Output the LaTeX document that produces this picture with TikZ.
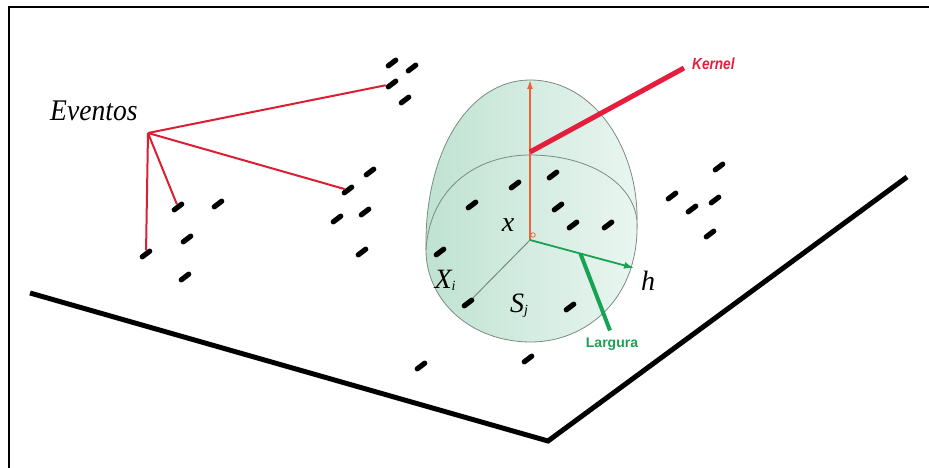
\documentclass[tikz,border=0pt]{standalone}
\usepackage{fontspec}
\setmainfont{Liberation Serif}
\setsansfont{Liberation Sans}
\usetikzlibrary{positioning,arrows.meta,calc}
\definecolor{eventred}{HTML}{DC1E32}
\definecolor{kernelred}{HTML}{E41E3C}
\definecolor{widthgreen}{HTML}{17A352}
\definecolor{axisorange}{HTML}{E8643A}
\definecolor{domedark}{HTML}{BFE2D2}
\definecolor{domelight}{HTML}{EAF6F1}
\definecolor{domeline}{HTML}{7C8A84}

\begin{document}
\begin{tikzpicture}[x=1pt, y=-1pt,
    evento/.style={fill=black, rounded corners=2.5pt, minimum width=14.5pt, minimum height=5.2pt, inner sep=0pt, rotate=37},
    plano/.style={line width=5pt},
    ligacao/.style={eventred, line width=2pt},
    rotulo/.style={inner sep=0pt, font=\fontsize{28}{28}\selectfont\itshape},
    marca/.style={inner sep=0pt, font=\sffamily\bfseries\fontsize{15}{15}\selectfont}
]
    \useasboundingbox (0,0) rectangle (929,468);
    \draw[line width=2pt] (9,468) -- (9,7) -- (929,7);

    \coordinate (pa) at (30,293);
    \coordinate (canto) at (548,441);
    \coordinate (pb) at (907,177);
    \draw[plano] (pa) -- (canto) -- (pb);

    \shadedraw[left color=domedark, right color=domelight, draw=domeline, line width=0.8pt]
        (426,250) .. controls (424,150) and (470,80) .. (530,80)
        .. controls (595,80) and (638,150) .. (637,220)
        .. controls (640,300) and (585,342) .. (531,342)
        .. controls (470,342) and (426,300) .. (426,250) -- cycle;
    \draw[domeline, line width=0.8pt] (426,250) .. controls (430,185) and (480,155) .. (530,155)
        .. controls (585,155) and (632,180) .. (637,220);

    \foreach \nome/\px/\py in {a1/392/63, a2/412/68, a3/392/84, a4/405/100,
        b1/370/172, b2/348/190, b3/337/219, b4/365/212, b5/362/252,
        c1/178/207, c2/218/204, c3/187/239, c4/146/254, c5/185/277,
        d1/421/366, d2/528/359,
        r1/719/167, r2/672/196, r3/692/209, r4/715/200, r5/710/234,
        k1/515/185, k2/553/175, k3/472/205, k4/558/207, k5/573/225,
        k6/608/225, k7/440/252, k8/468/303, k9/570/307}
        \node[evento] (\nome) at (\px,\py) {};

    \coordinate (centro) at (530,240);
    \coordinate (topo) at (530,80);
    \coordinate (kbase) at (530,152);
    \coordinate (hponta) at (634,268);
    \node[circle, draw=axisorange, line width=0.8pt, inner sep=1.6pt] (origem) at (533,235) {};

    \draw[domeline, line width=1pt] (centro) -- (k8);
    \draw[axisorange, line width=1.5pt, -{Latex[length=9pt,width=6pt]}] (centro) -- (topo);

    \node[rotulo, anchor=base west, font=\fontsize{30}{30}\selectfont\itshape] (eventos) at (50,121) {\scalebox{0.92}[1]{Eventos}};
    \coordinate (foco) at (148,133);
    \draw[ligacao] (foco) -- (a3);
    \draw[ligacao] (foco) -- (b2);
    \draw[ligacao] (foco) -- (c1);
    \draw[ligacao] (foco) -- (c4);

    \node[marca, anchor=west, text=kernelred, font=\sffamily\bfseries\itshape\fontsize{16}{16}\selectfont] (kernel) at (692,64) {\scalebox{0.85}[1]{Kernel}};
    \draw[kernelred, line width=5pt] (kbase) -- ($(kernel.west)+(-8,4)$);

    \draw[widthgreen, line width=1.8pt, -{Latex[length=10pt,width=7pt]}] (centro) -- (hponta);
    \node[marca, text=widthgreen, font=\sffamily\bfseries\fontsize{14}{14}\selectfont] (largura) at (612,344) {Largura};
    \draw[widthgreen, line width=4pt] ($(centro)!0.485!(hponta)$) -- ($(largura.north)+(-2,-7)$);

    \node[rotulo, anchor=base] (xlab) at (508,231) {x};
    \node[rotulo, anchor=base] (xilab) at (445,288) {X\raisebox{-2pt}{\fontsize{14}{14}\selectfont i}};
    \node[rotulo, anchor=base] (sjlab) at (519,312) {S\raisebox{-2pt}{\fontsize{14}{14}\selectfont j}};
    \node[rotulo, anchor=base] (hlab) at (648,290) {h};
\end{tikzpicture}
\end{document}
